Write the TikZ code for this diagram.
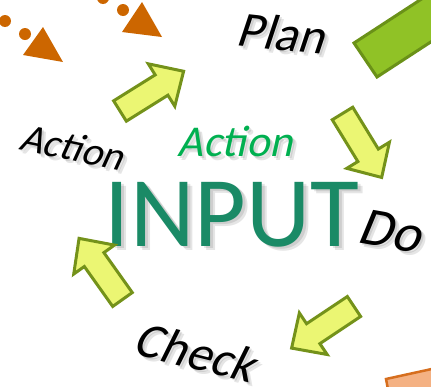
\documentclass[tikz,border=0pt]{standalone}
\usepackage{fontspec}
\setmainfont{Carlito}
\newfontfamily\oblfont{Carlito}[FakeSlant=0.22]
\definecolor{orng}{RGB}{204,102,0}
\definecolor{arfill}{RGB}{235,246,115}
\definecolor{arline}{RGB}{116,146,26}
\definecolor{barfill}{RGB}{144,194,38}
\definecolor{barline}{RGB}{106,145,24}
\definecolor{inputcol}{RGB}{26,138,102}
\definecolor{actgreen}{RGB}{0,176,80}
\definecolor{salmon}{RGB}{244,177,131}
\definecolor{salline}{RGB}{214,110,30}
\tikzset{
  arrowshape/.style={fill=arfill,draw=arline,line width=3pt,line join=miter},
  blockarrow/.pic={\path[arrowshape] (0,-12) -- (49,-12) -- (49,-25) -- (75,0) -- (49,25) -- (49,12) -- (0,12) -- cycle;},
  word/.style={inner sep=0pt, font=\fontsize{#1}{#1}\selectfont\oblfont},
  shad/.style={text=black, text opacity=0.10},
  dot/.style={fill=orng},
}
\begin{document}
\begin{tikzpicture}[x=1pt,y=-1pt]
\useasboundingbox (0,0) rectangle (431,386);
\clip (0,0) rectangle (431,386);
% orange dots and triangles
\fill[dot] (5,21) circle (6);
\fill[dot] (25,34) circle (6);
\fill[dot] (43,27) -- (23,55) -- (63,62) -- cycle;
\fill[dot] (103,-2) circle (6);
\fill[dot] (123,10) circle (6);
\fill[dot] (142,2) -- (122,32) -- (162,37) -- cycle;
% green bar top right
\path[fill=barfill,draw=barline,line width=3pt] (354,43) -- (479.7,-38.9) -- (502.7,-4.9) -- (377,77) -- cycle;
% salmon shape bottom right
\path[fill=salmon,draw=salline,line width=2.5pt] (386,379) -- (450,365) -- (455,400) -- (392,410) -- cycle;
% text shadows (two soft layers)
\node[word=50, rotate=-6, shad] (planS) at (283,35) {Plan};
\node[word=50, rotate=-6, shad] (planT) at (285,37) {Plan};
\node[word=40, rotate=-12, shad] (actS) at (74,149) {Action};
\node[word=40, rotate=-12, shad] (actT) at (76,151) {Action};
\node[word=44, shad] (actgS) at (237,143) {Action};
\node[word=44, shad] (actgT) at (239,145) {Action};
\node[inner sep=0pt, font=\fontsize{100}{100}\selectfont, shad] (inputS) at (235,217) {INPUT};
\node[inner sep=0pt, font=\fontsize{100}{100}\selectfont, shad] (inputT) at (237,219) {INPUT};
\node[word=54, rotate=-10, shad] (doS) at (392,233) {Do};
\node[word=54, rotate=-10, shad] (doT) at (394,235) {Do};
\node[word=50, rotate=-14, shad] (checkS) at (197,354) {Check};
\node[word=50, rotate=-14, shad] (checkT) at (199,356) {Check};
% texts
\node[word=50, rotate=-6] (plan) at (281,33) {Plan};
\node[word=40, rotate=-12] (act) at (72,147) {Action};
\node[word=44, text=actgreen] (actg) at (235,141) {Action};
\node[inner sep=0pt, font=\fontsize{100}{100}\selectfont, text=inputcol] (input) at (232,215) {INPUT};
\node[word=54, rotate=-10] (do) at (390,231) {Do};
\node[word=50, rotate=-14] (check) at (195,352) {Check};
% block arrows
\pic[rotate=32] at (120,111) {blockarrow};
\pic[rotate=-58.5] at (342.5,113.5) {blockarrow};
\pic[rotate=-146.3] at (354,306.5) {blockarrow};
\pic[rotate=125.4] at (122.5,299.5) {blockarrow};
\end{tikzpicture}
\end{document}
